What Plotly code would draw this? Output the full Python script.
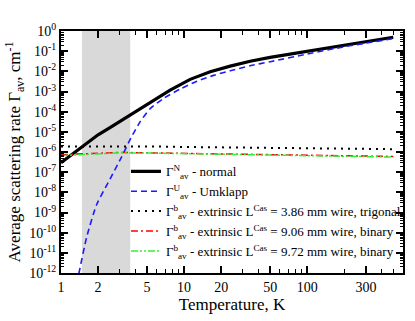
import plotly.graph_objects as go
import math

# ---- data ----
T_normal = [1, 1.5, 2, 2.5, 3, 3.64, 5, 7.7, 11.2, 16.3, 23.7, 34.4, 50, 100, 200, 300, 500]
G_normal = [2.95e-7, 1.8e-6, 7.1e-6, 1.62e-5, 3.24e-5, 6.9e-5, 2.4e-4, 1.17e-3, 4.0e-3,
            9.5e-3, 1.82e-2, 3.16e-2, 4.9e-2, 1.0e-1, 2.0e-1, 2.95e-1, 4.9e-1]

T_umklapp = [1.3, 1.4, 1.62, 1.95, 2.5, 3.1, 3.7, 4.4, 5.3, 6.8, 9.3, 12.7, 17.3, 23.7, 34.4,
             50, 100, 200, 300, 500]
G_umklapp = [1.0e-13, 1.0e-12, 6.3e-11, 2.5e-9, 4.5e-8, 5.6e-7, 5.0e-6, 3.2e-5, 1.41e-4, 4.5e-4,
             1.32e-3, 3.2e-3, 6.3e-3, 1.07e-2, 1.9e-2, 3.0e-2, 7.2e-2, 1.66e-1, 2.5e-1, 4.2e-1]

T_ext = [1, 2, 3, 5, 10, 30, 100, 500]
G_trigonal = [1.9e-6, 1.95e-6, 2.0e-6, 1.9e-6, 1.78e-6, 1.66e-6, 1.51e-6, 1.38e-6]
G_binary1 = [7.4e-7, 8.9e-7, 9.5e-7, 9.1e-7, 8.5e-7, 7.8e-7, 6.9e-7, 6.0e-7]
G_binary2 = [6.6e-7, 8.5e-7, 9.1e-7, 8.9e-7, 8.3e-7, 7.4e-7, 6.5e-7, 5.6e-7]

band_T = [1.48, 3.65]

x_tick_vals = [1, 2, 5, 10, 20, 50, 100, 300]
x_tick_text = ["1", "2", "5", "10", "20", "50", "100", "300"]
y_exponents = list(range(-12, 1))

names = [
    "Γ<sup>N</sup><sub>av</sub> - normal",
    "Γ<sup>U</sup><sub>av</sub> - Umklapp",
    "Γ<sup>b</sup><sub>av</sub> - extrinsic L<sup>Cas</sup> = 3.86 mm wire, trigonal",
    "Γ<sup>b</sup><sub>av</sub> - extrinsic L<sup>Cas</sup> = 9.06 mm wire, binary",
    "Γ<sup>b</sup><sub>av</sub> - extrinsic L<sup>Cas</sup> = 9.72 mm wire, binary",
]

FONT = "Liberation Serif"

fig = go.Figure()
fig.add_trace(go.Scatter(x=T_normal, y=G_normal, mode="lines", name=names[0],
                         line=dict(color="black", width=3.2)))
fig.add_trace(go.Scatter(x=T_umklapp, y=G_umklapp, mode="lines", name=names[1],
                         line=dict(color="#1a1aff", width=1.6, dash="6px,4px", shape="spline",
                                   smoothing=0.6)))
fig.add_trace(go.Scatter(x=T_ext, y=G_trigonal, mode="lines", name=names[2],
                         line=dict(color="black", width=2, dash="2px,5px")))
fig.add_trace(go.Scatter(x=T_ext, y=G_binary1, mode="lines", name=names[3],
                         line=dict(color="#ff0000", width=1.5, dash="7px,3px,2px,3px")))
fig.add_trace(go.Scatter(x=T_ext, y=G_binary2, mode="lines", name=names[4],
                         line=dict(color="#33ee33", width=1.5, dash="7px,2px,2px,2px,2px,2px")))

fig.add_shape(type="rect", xref="x", yref="paper", x0=band_T[0], x1=band_T[1], y0=0, y1=1,
              fillcolor="#d9d9d9", line=dict(width=0), layer="below")

x_minor = [m * 10 ** d for d in range(0, 3) for m in range(2, 10)
           if m * 10 ** d not in x_tick_vals and m * 10 ** d < 600]
y_minor = [m * 10.0 ** e for e in range(-12, 0) for m in range(2, 10)]

axis_common = dict(showline=True, linecolor="black", linewidth=2, mirror="ticks",
                   ticks="inside", tickcolor="black", tickwidth=1.5, ticklen=7,
                   showgrid=False, zeroline=False,
                   tickfont=dict(family=FONT, size=14, color="black"))

fig.update_xaxes(type="log", range=[0, math.log10(600)],
                 tickvals=x_tick_vals, ticktext=x_tick_text,
                 title=dict(text="Temperature, K", font=dict(family=FONT, size=17, color="black"),
                            standoff=2),
                 minor=dict(tickvals=x_minor, ticks="inside", ticklen=4, tickcolor="black",
                            tickwidth=1, showgrid=False),
                 **axis_common)
fig.update_yaxes(type="log", range=[-12, 0],
                 tickvals=[10.0 ** e for e in y_exponents],
                 ticktext=["10<sup>%d</sup>" % e for e in y_exponents],
                 title=dict(text="Average scattering rate Γ<sub>av</sub>, cm<sup>-1</sup>",
                            font=dict(family=FONT, size=17, color="black"), standoff=4),
                 minor=dict(tickvals=y_minor, ticks="inside", ticklen=3, tickcolor="black",
                            tickwidth=1, showgrid=False),
                 **axis_common)

fig.update_layout(
    width=415, height=321,
    margin=dict(l=61, r=12, t=31, b=48, autoexpand=False),
    paper_bgcolor="white", plot_bgcolor="white",
    font=dict(family=FONT, color="black"),
    legend=dict(x=0.19, y=0.482, xanchor="left", yanchor="top",
                bgcolor="rgba(0,0,0,0)", borderwidth=0,
                font=dict(family=FONT, size=13, color="black"),
                itemwidth=30, tracegroupgap=0),
)

fig.write_html("out.html", config={"displayModeBar": False},
               post_script="document.body.style.margin='0px';")
